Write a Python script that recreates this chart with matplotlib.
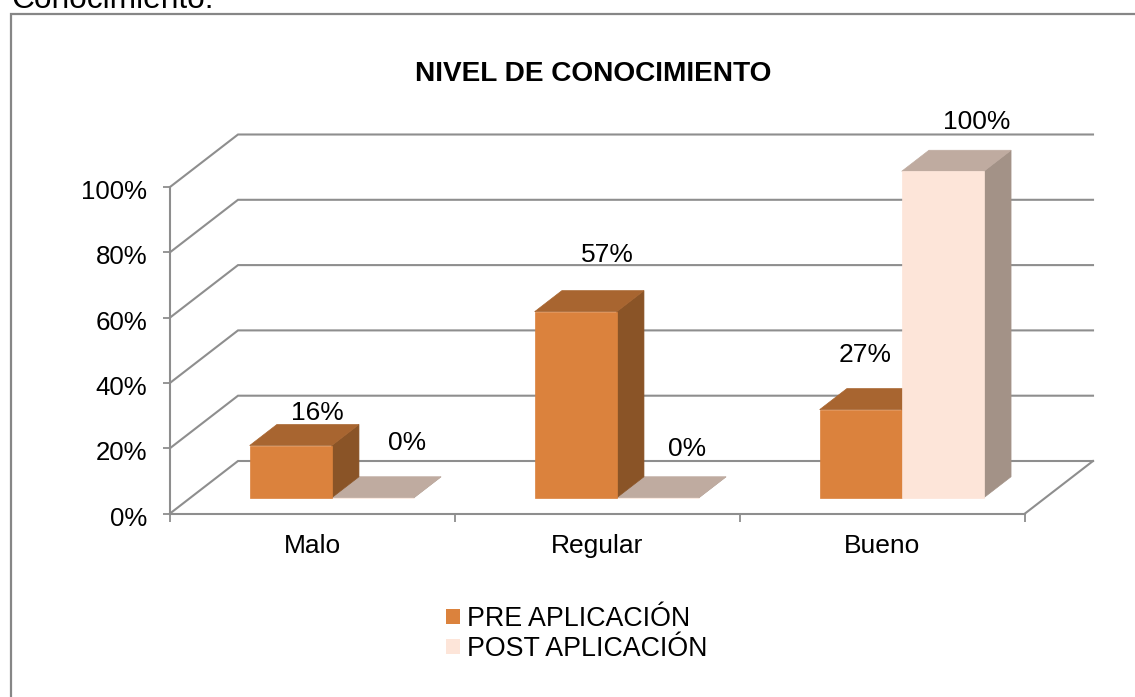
import matplotlib
matplotlib.use("Agg")
import matplotlib.pyplot as plt
from matplotlib.lines import Line2D
from matplotlib.patches import Polygon, Rectangle
from matplotlib.transforms import ScaledTranslation

plt.rcParams['font.family'] = ['Liberation Sans', 'DejaVu Sans']

categorias = ["Malo", "Regular", "Bueno"]
pre_aplicacion = [16, 57, 27]
post_aplicacion = [0, 0, 100]
y_ticks = [0, 20, 40, 60, 80, 100]

W, H = 1135, 697
GRIS = "#8e8e8e"
NARANJA = ("#db823d", "#a86530", "#8a5427")
CLARO = ("#fde5d9", "#bfaba0", "#a39287")

# profundidad del piso 3D, en unidades de datos
WALL_DX, WALL_DY = 68 / 285, 52.5 / 3.265
BAR_Z0, BAR_Z1 = 0.3, 0.7
ANCHO = 0.288
DESPL = -0.004


def proj(x, y, z):
    return (x + z * WALL_DX, y + z * WALL_DY)


def barra(ax, x0, valor, colores, orden):
    x1 = x0 + ANCHO
    frente = [proj(x0, 0, BAR_Z0), proj(x1, 0, BAR_Z0), proj(x1, valor, BAR_Z0), proj(x0, valor, BAR_Z0)]
    lado = [proj(x1, 0, BAR_Z0), proj(x1, 0, BAR_Z1), proj(x1, valor, BAR_Z1), proj(x1, valor, BAR_Z0)]
    tapa = [proj(x0, valor, BAR_Z0), proj(x1, valor, BAR_Z0), proj(x1, valor, BAR_Z1), proj(x0, valor, BAR_Z1)]
    for pts, c in ((lado, colores[2]), (tapa, colores[1]), (frente, colores[0])):
        ax.add_patch(Polygon(pts, closed=True, facecolor=c, edgecolor=c, lw=0.5,
                             zorder=orden, clip_on=False))


fig = plt.figure(figsize=(W / 100, H / 100), dpi=100)
ax = fig.add_axes([170 / W, 1 - 513.5 / H, 855 / W, 326.5 / H])
ax.set_xlim(0, 3)
ax.set_ylim(0, 100)
ax.patch.set_visible(False)

# marco exterior (sin lado derecho ni inferior) y texto cortado de arriba
fig.add_artist(Line2D([10.5 / W, 10.5 / W, 1], [0, 1 - 14 / H, 1 - 14 / H], color="#868686", lw=1.6,
                      solid_joinstyle="miter"))
fig.text(11 / W, 1 - 8 / H, "Conocimiento.", fontsize=22.8, va="baseline", ha="left")
fig.text(593 / W, 1 - 74 / H, "NIVEL DE CONOCIMIENTO", fontsize=20.2, fontweight="bold",
         ha="center", va="center")

# rejilla de pared y lateral
for v in y_ticks:
    ax.plot([0, WALL_DX, 3 + WALL_DX], [v, v + WALL_DY, v + WALL_DY], color=GRIS, lw=1.5,
            clip_on=False, zorder=1, solid_joinstyle="miter")
ax.plot([3, 3 + WALL_DX], [0, WALL_DY], color=GRIS, lw=1.5, clip_on=False, zorder=1)

# barras: la mas alta del grupo no tapa a la otra salvo en Bueno
for i, (a, b) in enumerate(zip(pre_aplicacion, post_aplicacion)):
    x0 = i + 0.5 - ANCHO + DESPL
    if a >= b:
        barra(ax, x0 + ANCHO, b, CLARO, 3)
        barra(ax, x0, a, NARANJA, 4)
    else:
        barra(ax, x0, a, NARANJA, 3)
        barra(ax, x0 + ANCHO, b, CLARO, 4)

# ejes
for s in ("top", "right"):
    ax.spines[s].set_visible(False)
for s in ("left", "bottom"):
    ax.spines[s].set_color(GRIS)
    ax.spines[s].set_linewidth(1.5)
    ax.spines[s].set_zorder(2)

ax.set_yticks(y_ticks)
ax.set_yticklabels([f"{v}%" for v in y_ticks], fontsize=18.6)
ax.set_xticks([0, 1, 2, 3])
ax.set_xticklabels([])
ax.set_xticks([0.5, 1.5, 2.5], minor=True)
ax.set_xticklabels(categorias, minor=True, fontsize=19)
ax.tick_params(axis="x", which="major", length=5.5, width=1.3, color=GRIS)
ax.tick_params(axis="x", which="minor", length=0, pad=14.5)
ax.tick_params(axis="y", length=5, width=1.3, color=GRIS, pad=11.5)

# bajar las etiquetas del eje y, despues de tick_params que reinicia el transform
bajar = ScaledTranslation(0, -2.5 / 100, fig.dpi_scale_trans)
for t in ax.get_yticklabels():
    t.set_transform(t.get_transform() + bajar)

# etiquetas de datos, desplazadas respecto de cada barra
dx_pre, dy_pre = [0.516, 0.533, 0.439], [14.9, 22.2, 21.4]
dx_post, dy_post = [0.832, 0.814, 0.832], [21.5, 19.9, 20.0]
for i, v in enumerate(pre_aplicacion):
    ax.text(i + dx_pre[i], v + dy_pre[i], f"{v}%", fontsize=19, ha="center", va="center", zorder=10)
for i, v in enumerate(post_aplicacion):
    ax.text(i + dx_post[i], v + dy_post[i], f"{v}%", fontsize=19, ha="center", va="center", zorder=10)

# leyenda
handles = [Rectangle((0, 0), 1, 1, facecolor=NARANJA[0]), Rectangle((0, 0), 1, 1, facecolor=CLARO[0])]
fig.legend(handles, ["PRE APLICACIÓN", "POST APLICACIÓN"], loc="center", bbox_to_anchor=(577 / W, 1 - 634 / H),
           frameon=False, fontsize=19.3, handlelength=0.52, handleheight=0.52, handletextpad=0.26,
           labelspacing=0.15, borderpad=0)

fig.savefig("out.png", dpi=100)
